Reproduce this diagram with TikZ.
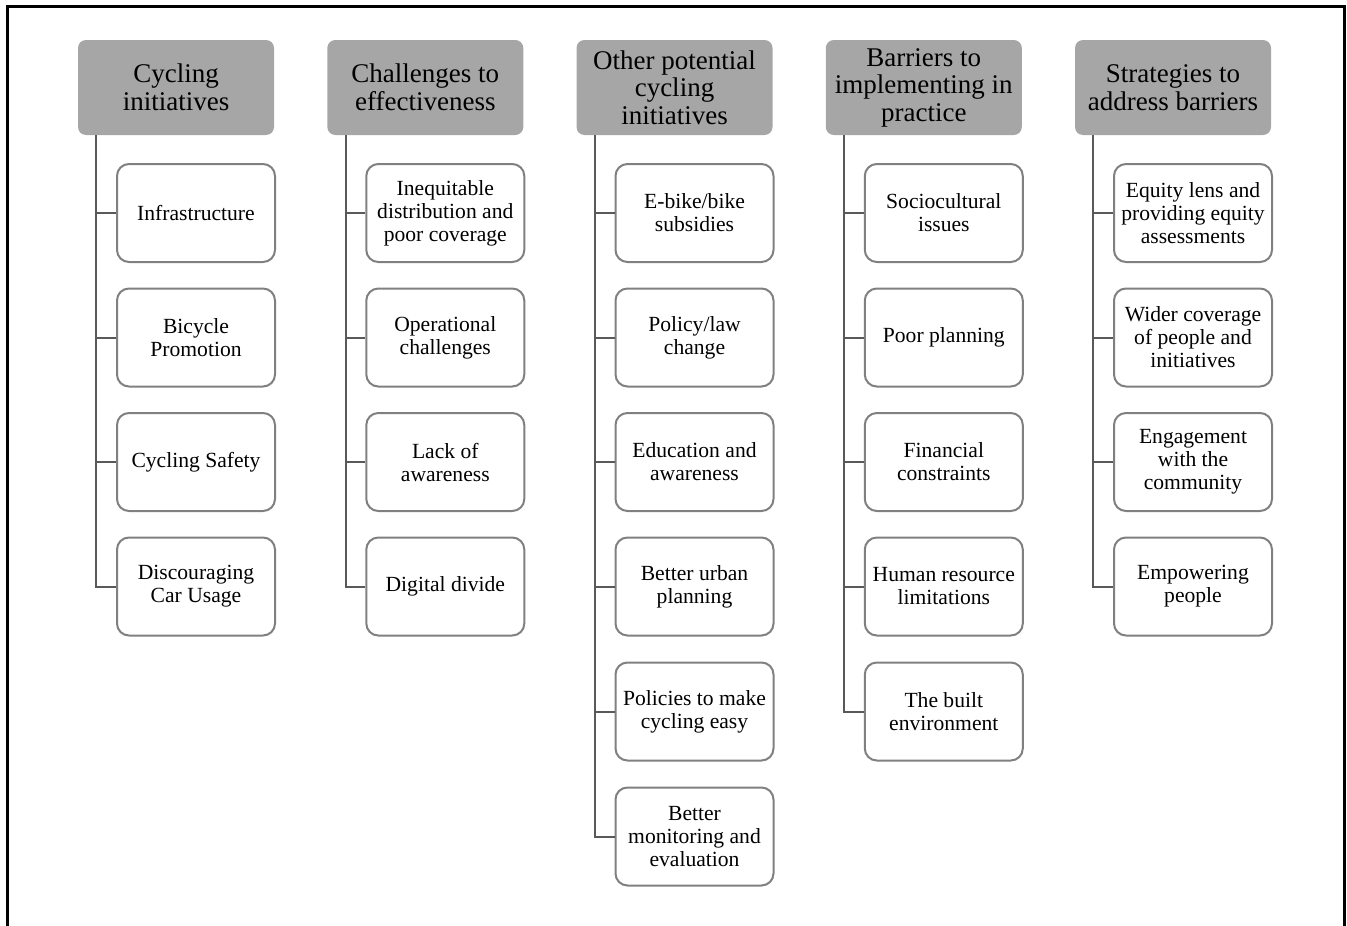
\documentclass[tikz,border=0pt]{standalone}
\usepackage{fontspec}
\setmainfont{Liberation Serif}
\definecolor{headgray}{RGB}{166,166,166}
\definecolor{boxgray}{RGB}{128,128,128}
\definecolor{linegray}{RGB}{89,89,89}

\begin{document}
\begin{tikzpicture}[x=1pt,y=-1pt,
    head/.style={fill=headgray,rounded corners=8pt,minimum width=196pt,minimum height=95pt,
      align=center,inner sep=1pt,font=\fontsize{27}{27.5}\selectfont},
    item/.style={draw=boxgray,line width=2pt,fill=white,rounded corners=12pt,
      minimum width=158pt,minimum height=98pt,align=center,inner sep=1pt,
      font=\fontsize{21.6}{23}\selectfont},
    link/.style={draw=linegray,line width=2pt}]
      \useasboundingbox (0,0) rectangle (1347,926);
      \draw[line width=3pt] (7.5,926) -- (7.5,6.5) -- (1344.5,6.5) -- (1344.5,926);

      % headers
      \node[head] (cyc)   at ( 176.0,87.5) {Cycling\\initiatives};
      \node[head] (chal)  at ( 425.3,87.5) {Challenges to\\effectiveness};
      \node[head] (oth)   at ( 674.5,87.5) {Other potential\\cycling\\initiatives};
      \node[head] (bar)   at ( 923.8,87.5) {Barriers to\\implementing in\\practice};
      \node[head] (strat) at (1173.0,87.5) {Strategies to\\address barriers};

      \coordinate (cyc-t)   at ([xshift=18.5pt]cyc.south west);
      \coordinate (chal-t)  at ([xshift=18.5pt]chal.south west);
      \coordinate (oth-t)   at ([xshift=18.5pt]oth.south west);
      \coordinate (bar-t)   at ([xshift=18.5pt]bar.south west);
      \coordinate (strat-t) at ([xshift=18.5pt]strat.south west);

      % column 1
      \node[item] (cyc1) at (196,213.0) {Infrastructure};
      \node[item] (cyc2) at (196,337.5) {Bicycle\\Promotion};
      \node[item] (cyc3) at (196,462.0) {Cycling Safety};
      \node[item] (cyc4) at (196,586.5) {Discouraging\\Car Usage};

      % column 2
      \node[item] (chal1) at (445.3,213.0) {Inequitable\\distribution and\\poor coverage};
      \node[item] (chal2) at (445.3,337.5) {Operational\\challenges};
      \node[item] (chal3) at (445.3,462.0) {Lack of\\awareness};
      \node[item] (chal4) at (445.3,586.5) {Digital divide};

      % column 3
      \node[item] (oth1) at (694.5,213.0) {E-bike/bike\\subsidies};
      \node[item] (oth2) at (694.5,337.5) {Policy/law\\change};
      \node[item] (oth3) at (694.5,462.0) {Education and\\awareness};
      \node[item] (oth4) at (694.5,586.5) {Better urban\\planning};
      \node[item] (oth5) at (694.5,711.5) {Policies to make\\cycling easy};
      \node[item] (oth6) at (694.5,836.5) {Better\\monitoring and\\evaluation};

      % column 4
      \node[item] (bar1) at (943.8,213.0) {Sociocultural\\issues};
      \node[item] (bar2) at (943.8,337.5) {Poor planning};
      \node[item] (bar3) at (943.8,462.0) {Financial\\constraints};
      \node[item] (bar4) at (943.8,586.5) {Human resource\\limitations};
      \node[item] (bar5) at (943.8,711.5) {The built\\environment};

      % column 5
      \node[item] (strat1) at (1193,213.0) {Equity lens and\\providing equity\\assessments};
      \node[item] (strat2) at (1193,337.5) {Wider coverage\\of people and\\initiatives};
      \node[item] (strat3) at (1193,462.0) {Engagement\\with the\\community};
      \node[item] (strat4) at (1193,586.5) {Empowering\\people};

      % connectors
      \draw[link] (cyc-t) |- (cyc1.west);
      \draw[link] (cyc-t) |- (cyc2.west);
      \draw[link] (cyc-t) |- (cyc3.west);
      \draw[link] (cyc-t) |- (cyc4.west);
      \draw[link] (chal-t) |- (chal1.west);
      \draw[link] (chal-t) |- (chal2.west);
      \draw[link] (chal-t) |- (chal3.west);
      \draw[link] (chal-t) |- (chal4.west);
      \draw[link] (oth-t) |- (oth1.west);
      \draw[link] (oth-t) |- (oth2.west);
      \draw[link] (oth-t) |- (oth3.west);
      \draw[link] (oth-t) |- (oth4.west);
      \draw[link] (oth-t) |- (oth5.west);
      \draw[link] (oth-t) |- (oth6.west);
      \draw[link] (bar-t) |- (bar1.west);
      \draw[link] (bar-t) |- (bar2.west);
      \draw[link] (bar-t) |- (bar3.west);
      \draw[link] (bar-t) |- (bar4.west);
      \draw[link] (bar-t) |- (bar5.west);
      \draw[link] (strat-t) |- (strat1.west);
      \draw[link] (strat-t) |- (strat2.west);
      \draw[link] (strat-t) |- (strat3.west);
      \draw[link] (strat-t) |- (strat4.west);
\end{tikzpicture}
\end{document}
